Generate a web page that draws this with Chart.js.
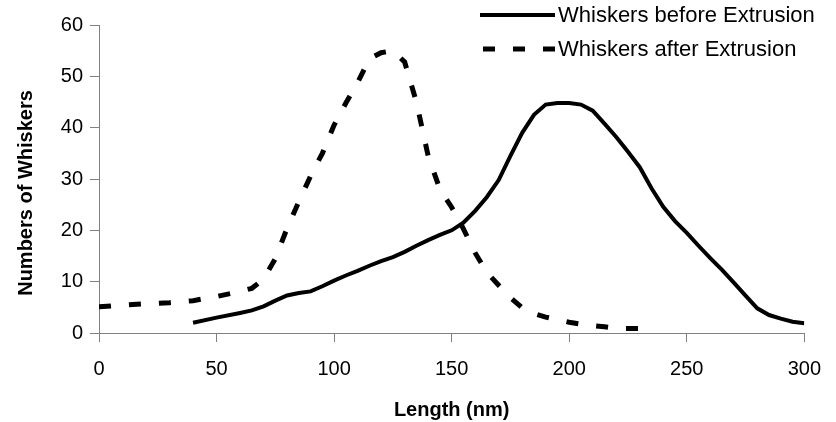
<!DOCTYPE html>
<html>
<head>
<meta charset="utf-8">
<title>Whisker length distribution</title>
<script src="https://cdn.jsdelivr.net/npm/chart.js@4.4.1/dist/chart.umd.min.js"></script>
<style>
  html, body { margin: 0; padding: 0; background: #fff; }
  #wrap { width: 836px; height: 422px; }
</style>
</head>
<body>
<div id="wrap"><canvas id="chart" width="836" height="422"></canvas></div>
<script>
// Length (nm) vs count
const beforeX = [40, 50, 60, 65, 70, 75, 80, 85, 90, 95, 100, 105, 110, 115, 120, 125, 130, 135, 140, 145,
                 150, 155, 160, 165, 170, 175, 180, 185, 190, 195, 200, 205, 210, 215, 220, 225, 230, 235,
                 240, 245, 250, 255, 260, 265, 270, 275, 280, 285, 290, 295, 300];
const beforeY = [2.0, 3.0, 3.9, 4.4, 5.2, 6.3, 7.3, 7.8, 8.1, 9.1, 10.2, 11.2, 12.1, 13.1, 14.0, 14.8, 15.8, 17.0, 18.1, 19.1,
                 20.0, 21.5, 23.8, 26.5, 29.8, 34.5, 39.0, 42.5, 44.5, 44.8, 44.8, 44.5, 43.3, 40.8, 38.2, 35.3, 32.3, 28.2,
                 24.6, 21.8, 19.5, 17.0, 14.6, 12.3, 9.8, 7.3, 4.8, 3.5, 2.8, 2.2, 1.9];

const afterX = [0, 10, 20, 30, 40, 50, 60, 65, 70, 75, 80, 85, 90, 95, 100, 105, 110, 115, 120, 125,
                130, 135, 140, 145, 150, 155, 160, 165, 170, 175, 180, 185, 190, 195, 200, 205, 210, 215,
                220, 225, 230, 235];
const afterY = [5.1, 5.4, 5.7, 5.9, 6.3, 7.1, 8.1, 8.7, 10.5, 14.5, 20.4, 25.6, 30.6, 35.0, 40.5, 44.8, 48.8, 53.4, 54.6, 55.0,
                52.8, 45.0, 34.5, 28.0, 24.5, 20.3, 15.6, 11.8, 9.3, 6.9, 4.9, 3.8, 3.1, 2.6, 2.1, 1.7, 1.4, 1.2,
                0.9, 0.9, 0.9, 0.9];

const seriesNames = ['Whiskers before Extrusion', 'Whiskers after Extrusion'];
const xTitle = 'Length (nm)';
const yTitle = 'Numbers of Whiskers';

const FONT = 'Arial, "Liberation Sans", sans-serif';
const AXIS_GRAY = '#808080';
const DASH = [12, 18];

function toPoints(xs, ys) {
    return xs.map((x, i) => ({ x: x, y: ys[i] }));
}

// legend + rotated y title, drawn on top of the plot like the original
const overlay = {
    id: 'overlay',
    afterDraw(chart) {
        const ctx = chart.ctx;
        ctx.save();
        ctx.fillStyle = '#000';
        ctx.strokeStyle = '#000';

        // legend
        ctx.font = '22px ' + FONT;
        ctx.textAlign = 'left';
        ctx.textBaseline = 'middle';
        const rows = [
            { y: 15, width: 4, dash: [] },
            { y: 49, width: 5, dash: DASH }
        ];
        rows.forEach((r, i) => {
            ctx.lineWidth = r.width;
            ctx.setLineDash(r.dash);
            ctx.lineDashOffset = -3;
            ctx.beginPath();
            ctx.moveTo(480, r.y);
            ctx.lineTo(555, r.y);
            ctx.stroke();
            ctx.fillText(chart.data.datasets[i].label, 558, r.y + 1);
        });

        // y axis title
        ctx.setLineDash([]);
        ctx.font = 'bold 20px ' + FONT;
        ctx.translate(26, 193);
        ctx.rotate(-Math.PI / 2);
        ctx.textAlign = 'center';
        ctx.fillText(yTitle, 0, 0);
        ctx.restore();
    }
};

new Chart(document.getElementById('chart'), {
    type: 'line',
    data: {
        datasets: [
            {
                label: seriesNames[0],
                data: toPoints(beforeX, beforeY),
                borderColor: '#000',
                borderWidth: 4,
                pointRadius: 0,
                tension: 0,
                fill: false
            },
            {
                label: seriesNames[1],
                data: toPoints(afterX, afterY),
                borderColor: '#000',
                borderWidth: 5,
                borderDash: DASH,
                pointRadius: 0,
                tension: 0,
                fill: false
            }
        ]
    },
    options: {
        responsive: false,
        animation: false,
        events: [],
        layout: { padding: { top: 25, right: 29, left: 0, bottom: 0 } },
        plugins: {
            legend: { display: false },
            tooltip: { enabled: false }
        },
        scales: {
            x: {
                type: 'linear',
                min: 0,
                max: 300,
                ticks: { stepSize: 50, color: '#000', font: { size: 20, family: FONT }, padding: 15, maxRotation: 0 },
                grid: { drawOnChartArea: false, tickLength: 9, color: AXIS_GRAY },
                border: { color: AXIS_GRAY, width: 1 },
                title: { display: true, text: xTitle, color: '#000', font: { size: 20, weight: 'bold', family: FONT }, padding: { top: 0, bottom: 0 } },
                afterFit(scale) { scale.height = 89; }
            },
            y: {
                min: 0,
                max: 60,
                ticks: { stepSize: 10, color: '#000', font: { size: 20, family: FONT }, padding: 7 },
                grid: { drawOnChartArea: false, tickLength: 9, color: AXIS_GRAY },
                border: { color: AXIS_GRAY, width: 1 },
                afterFit(scale) { scale.width = 99; }
            }
        }
    },
    plugins: [overlay]
});
</script>
</body>
</html>
